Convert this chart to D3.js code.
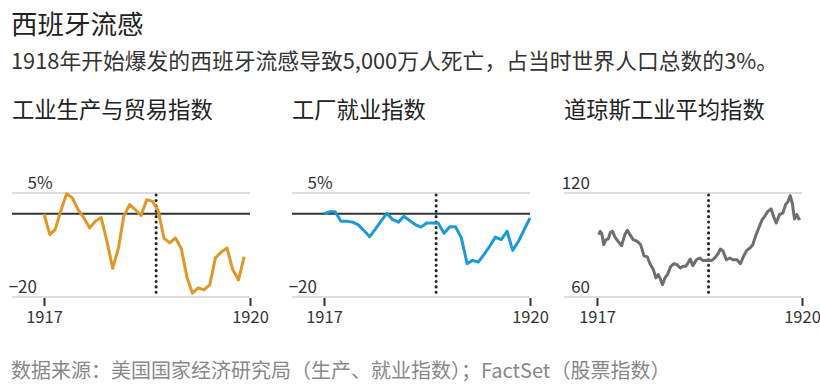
<!DOCTYPE html>
<meta charset="utf-8">
<style>
    body { margin: 0; background: #fff; }
    text { font-family: "Noto Sans CJK SC", "Noto Sans", sans-serif; }
    .title { font-size: 26.5px; fill: #222; }
    .subtitle { font-size: 21.8px; fill: #333; }
    .panel-title { font-size: 22.3px; fill: #222; }
    .source { font-size: 20px; fill: #888; }
    .grid { stroke: #dcdcdc; stroke-width: 2; }
    .zero { stroke: #333; stroke-width: 2; }
    .axis text { font-size: 16.5px; fill: #333; }
    .ylab { font-size: 17px; fill: #333; }
    .marker { stroke: #222; stroke-width: 3; stroke-dasharray: 0.1 5.3; stroke-linecap: round; }
    .line { fill: none; stroke-width: 3; stroke-linejoin: round; }
</style>
<svg width="820" height="387"></svg>
<script src="https://d3js.org/d3.v7.min.js"></script>
<script>

    // monthly series, Jan 1917 onward (% change)
    var productionValues = [0, -5.0, -3.8, 0.8, 4.8, 3.8, 1.0, -1.0, -3.4, -1.8, -0.9, -6.5,
        -13.1, -8.2, -0.6, 2.2, 1.0, -0.4, 3.4, 3.0, 0.6, -5.9, -7.0, -5.8,
        -8.4, -15.4, -19.1, -17.8, -18.3, -17.1, -10.6, -9.2, -8.2, -13.4, -15.9, -10.3];

    var employmentValues = [0, 0.5, 0.5, -1.8, -1.8, -2.0, -2.6, -4.0, -5.5, -3.7, -1.7, 0.1,
        -1.4, -2.0, -0.6, -1.6, -2.6, -3.2, -2.2, -2.2, -2.3, -4.7, -3.1, -3.1,
        -5.8, -12.0, -11.2, -11.6, -9.8, -7.8, -5.6, -6.2, -4.2, -8.8, -6.6, -3.8, -1.0];

    // Dow Jones industrial average, sampled
    var djiaDates = ["1917-01-10", "1917-01-18", "1917-01-27", "1917-02-06", "1917-02-19", "1917-03-02",
        "1917-03-14", "1917-03-25", "1917-04-07", "1917-04-24", "1917-05-12", "1917-05-30",
        "1917-06-12", "1917-06-26", "1917-07-13", "1917-08-04", "1917-08-22", "1917-09-09",
        "1917-09-27", "1917-10-11", "1917-10-29", "1917-11-12", "1917-11-24", "1917-12-07",
        "1917-12-17", "1917-12-30", "1918-01-12", "1918-01-30", "1918-02-16", "1918-03-04",
        "1918-03-22", "1918-04-06", "1918-04-20", "1918-05-02", "1918-05-14", "1918-05-28",
        "1918-06-16", "1918-07-03", "1918-07-21", "1918-08-12", "1918-09-04", "1918-09-22",
        "1918-10-10", "1918-10-22", "1918-11-06", "1918-11-23", "1918-12-11", "1918-12-28",
        "1919-01-19", "1919-02-06", "1919-02-23", "1919-03-12", "1919-03-29", "1919-04-13",
        "1919-05-01", "1919-05-15", "1919-06-02", "1919-06-14", "1919-07-02", "1919-07-20",
        "1919-08-02", "1919-08-16", "1919-09-03", "1919-09-21", "1919-10-05", "1919-10-19",
        "1919-10-30", "1919-11-10", "1919-11-22", "1919-12-04", "1919-12-15", "1919-12-22"];
    var djiaValues = [96.0, 97.9, 96.5, 90.2, 93.1, 93.5,
        97.3, 97.9, 94.6, 92.1, 89.6, 96.0,
        98.5, 96.0, 93.1, 92.1, 90.2, 83.8,
        83.1, 79.2, 75.8, 71.0, 72.9, 70.0,
        67.1, 71.0, 72.9, 77.7, 79.2, 78.7,
        76.7, 77.7, 77.7, 79.6, 81.9, 78.1,
        81.5, 82.5, 81.0, 81.2, 81.0, 82.5,
        85.0, 87.7, 86.3, 81.5, 82.5, 81.5,
        81.5, 79.2, 83.5, 86.9, 88.3, 90.2,
        96.0, 99.8, 104.6, 106.2, 109.4, 110.8,
        106.5, 102.7, 107.5, 108.5, 113.3, 115.2,
        118.5, 114.2, 105.0, 107.5, 105.0, 105.6];

    var xTicks = ["1917", "1920"];
    var markerDate = "1918-08-20";

    var parseDay = d3.timeParse("%Y-%m-%d");
    var start = new Date(1917, 0, 1);

    function monthly(values) {
        return values.map(function(v, i) { return {date: d3.timeMonth.offset(start, i), value: v}; });
    }

    var panels = [
        {title: "工业生产与贸易指数", left: 12, x0: 44, x1: 250, domain: [-20, 5],
            labels: [{v: 5, t: "5", suffix: "%"}, {v: -20, t: "−20"}], zero: true,
            color: "#e0972a", data: monthly(productionValues)},
        {title: "工厂就业指数", left: 292, x0: 324, x1: 530, domain: [-20, 5],
            labels: [{v: 5, t: "5", suffix: "%"}, {v: -20, t: "−20"}], zero: true,
            color: "#1b9ad6", data: monthly(employmentValues)},
        {title: "道琼斯工业平均指数", left: 564, x0: 597, x1: 802, domain: [60, 120],
            labels: [{v: 120, t: "120"}, {v: 60, t: "60"}], zero: false,
            color: "#6e6e6e",
            data: djiaDates.map(function(d, i) { return {date: parseDay(d), value: djiaValues[i]}; })}
    ];

    var svg = d3.select("svg"),
        plotTop = 193, plotBottom = 297;

    svg.append("text").attr("class", "title").attr("x", 11).attr("y", 34).text("西班牙流感");
    svg.append("text").attr("class", "subtitle").attr("x", 11).attr("y", 69)
        .text("1918年开始爆发的西班牙流感导致5,000万人死亡，占当时世界人口总数的3%。");
    svg.append("text").attr("class", "source").attr("x", 11).attr("y", 378)
        .text("数据来源：美国国家经济研究局（生产、就业指数）；FactSet（股票指数）");

    panels.forEach(function(p) {
        var x = d3.scaleTime()
            .domain([start, parseDay(xTicks[1] + "-01-01")])
            .range([p.x0, p.x1]);
        var y = d3.scaleLinear().domain(p.domain).range([plotBottom, plotTop]);

        var g = svg.append("g");

        g.append("text").attr("class", "panel-title")
            .attr("x", p.left).attr("y", 118).text(p.title);

        g.selectAll(".grid")
            .data(p.domain)
            .enter().append("line")
            .attr("class", "grid")
            .attr("x1", p.left).attr("x2", p.x1)
            .attr("y1", function(d) { return y(d); })
            .attr("y2", function(d) { return y(d); });

        if (p.zero) {
            g.append("line").attr("class", "zero")
                .attr("x1", p.left).attr("x2", p.x1)
                .attr("y1", y(0)).attr("y2", y(0));
        }

        // y labels sit just above their gridlines; % hangs past the number
        p.labels.forEach(function(l) {
            g.append("text").attr("class", "ylab")
                .attr("x", p.x0 - 7).attr("y", y(l.v) - 4)
                .attr("text-anchor", "end").text(l.t);
            if (l.suffix) {
                g.append("text").attr("class", "ylab")
                    .attr("x", p.x0 - 7).attr("y", y(l.v) - 4).text(l.suffix);
            }
        });

        var axis = g.append("g")
            .attr("class", "axis")
            .attr("transform", "translate(0," + (plotBottom + 1) + ")")
            .call(d3.axisBottom(x)
                .tickValues(xTicks.map(function(t) { return parseDay(t + "-01-01"); }))
                .tickSize(8).tickPadding(5)
                .tickFormat(d3.timeFormat("%Y")));
        axis.select(".domain").remove();
        axis.selectAll(".tick line").attr("stroke", "#333").attr("stroke-width", 2);

        var mx = x(parseDay(markerDate));
        g.append("line").attr("class", "marker")
            .attr("x1", mx).attr("x2", mx)
            .attr("y1", plotTop + 2).attr("y2", plotBottom - 3);

        g.append("path")
            .datum(p.data)
            .attr("class", "line")
            .attr("stroke", p.color)
            .attr("d", d3.line()
                .x(function(d) { return x(d.date); })
                .y(function(d) { return y(d.value); }));
    });
</script>
